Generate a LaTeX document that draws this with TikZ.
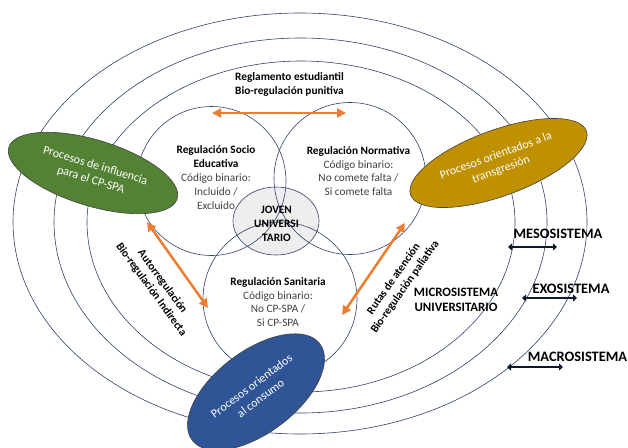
\documentclass[tikz,border=0pt]{standalone}
\usepackage{fontspec}
\setmainfont{Carlito}
\usetikzlibrary{arrows.meta,shapes.geometric}
\definecolor{lineblue}{RGB}{47,64,105}
\definecolor{orng}{RGB}{237,125,49}
\definecolor{grn}{RGB}{84,130,53}
\definecolor{goldc}{RGB}{191,144,0}
\definecolor{blu}{RGB}{47,85,151}
\definecolor{navy}{RGB}{12,22,45}
\definecolor{txtgray}{RGB}{64,64,64}
\definecolor{jfill}{RGB}{238,238,238}
\begin{document}
\begin{tikzpicture}[x=1pt,y=-1pt,
  sysline/.style={draw=lineblue, line width=0.6pt},
  regcircle/.style={circle, draw=lineblue, line width=0.6pt, inner sep=0pt},
  jovenshape/.style={ellipse, draw=lineblue, line width=0.6pt, fill=jfill, inner sep=0pt, minimum width=86pt, minimum height=68pt},
  bodytxt/.style={align=center, text=txtgray, inner sep=0pt, font=\fontsize{11.3}{13.8}\selectfont},
  boldtxt/.style={align=center, text=black, inner sep=0pt, font=\fontsize{11.3}{13.8}\selectfont\bfseries},
  microtxt/.style={align=center, text=black, inner sep=0pt, font=\fontsize{12.8}{15}\selectfont\bfseries},
  systxt/.style={text=black, inner sep=0pt, font=\fontsize{14.4}{16}\selectfont\bfseries},
  procshape/.style={ellipse, draw=black!75, line width=0.6pt, inner sep=0pt, align=center, text=white, font=\fontsize{12}{15}\selectfont},
  orarrow/.style={draw=orng, line width=2.5pt, {Triangle[length=9pt,width=9pt]}-{Triangle[length=9pt,width=9pt]}},
  navyarrow/.style={draw=navy, line width=2.4pt, {Triangle[length=4pt,width=7pt]}-{Triangle[length=4pt,width=7pt]}}
]
\useasboundingbox (0,0) rectangle (628,447);
\clip (0,0) rectangle (628,447);

% system ellipses (micro, meso/exo, macro boundaries)
\draw[sysline] (587,222) arc[start angle=0,end angle=180,x radius=287,y radius=212]
  arc[start angle=180,end angle=360,x radius=287,y radius=209] -- cycle;
\draw[sysline] (547,222) arc[start angle=0,end angle=180,x radius=246.5,y radius=191]
  arc[start angle=180,end angle=360,x radius=246.5,y radius=184] -- cycle;
\draw[sysline] (515,222) arc[start angle=0,end angle=180,x radius=214,y radius=170]
  arc[start angle=180,end angle=360,x radius=214,y radius=161] -- cycle;

% central young person
\node[jovenshape] (joven) at (276,221) {};

% regulation circles
\node[regcircle, minimum size=149pt] (socio) at (211.5,181) {};
\node[regcircle, minimum size=152pt] (norma) at (350,178.5) {};
\node[regcircle, minimum size=154pt] (sanit) at (280,299) {};

% texts
\node[boldtxt] (regt) at (289.5,84.5) {Reglamento estudiantil\\Bio-regulación punitiva};
\node[bodytxt] (sociot) at (216,177.5) {\textcolor{black}{\bfseries Regulación Socio}\\\textcolor{black}{\bfseries Educativa}\\Código binario:\\Incluido /\\Excluido};
\node[bodytxt] (normat) at (358.5,171) {\textcolor{black}{\bfseries Regulación Normativa}\\Código binario:\\No comete falta /\\Si comete falta};
\node[bodytxt] (sanitt) at (278,302) {\textcolor{black}{\bfseries Regulación Sanitaria}\\Código binario:\\No CP-SPA /\\Si CP-SPA};
\node[boldtxt] (jovent) at (276.5,224) {JOVEN\\UNIVERSI\\TARIO};
\node[boldtxt, rotate=-54] (autot) at (156.7,285.5) {Autorregulación\\Bio-regulación Indirecta};
\node[boldtxt, rotate=55] (rutast) at (399.5,283) {Rutas de atención\\Bio-regulación paliativa};
\node[microtxt] (microt) at (456,299.5) {MICROSISTEMA\\UNIVERSITARIO};
\node[systxt] (mesot) at (558,234) {MESOSISTEMA};
\node[systxt] (exot) at (571,289) {EXOSISTEMA};
\node[systxt] (macrot) at (577.5,357) {MACROSISTEMA};

% orange arrows
\coordinate (topL) at (212,113);
\coordinate (topR) at (346,113);
\coordinate (leftU) at (147,222);
\coordinate (leftD) at (208,308);
\coordinate (rightU) at (405,223);
\coordinate (rightD) at (342,315);
\draw[orarrow] (topL) -- (topR);
\draw[orarrow] (leftU) -- (leftD);
\draw[orarrow] (rightU) -- (rightD);

% system arrows
\coordinate (mesoL) at (508,247);
\coordinate (mesoR) at (557,247);
\coordinate (exoL) at (522,298);
\coordinate (exoR) at (577,298);
\coordinate (macroL) at (507,367);
\coordinate (macroR) at (563,367);
\draw[navyarrow] (mesoL) -- (mesoR);
\draw[navyarrow] (exoL) -- (exoR);
\draw[navyarrow] (macroL) -- (macroR);

% process ellipses
\node[procshape, fill=grn, minimum width=176pt, minimum height=66pt, rotate=-17] (influ) at (93,173) {Procesos de influencia\\para el CP-SPA};
\node[procshape, fill=goldc, minimum width=187pt, minimum height=66pt, rotate=20] (transg) at (498.5,163) {Procesos orientados a la\\transgresión};
\node[procshape, fill=blu, minimum width=160pt, minimum height=82pt, rotate=37] (consumo) at (256,392) {Procesos orientados\\al consumo};
\end{tikzpicture}
\end{document}
